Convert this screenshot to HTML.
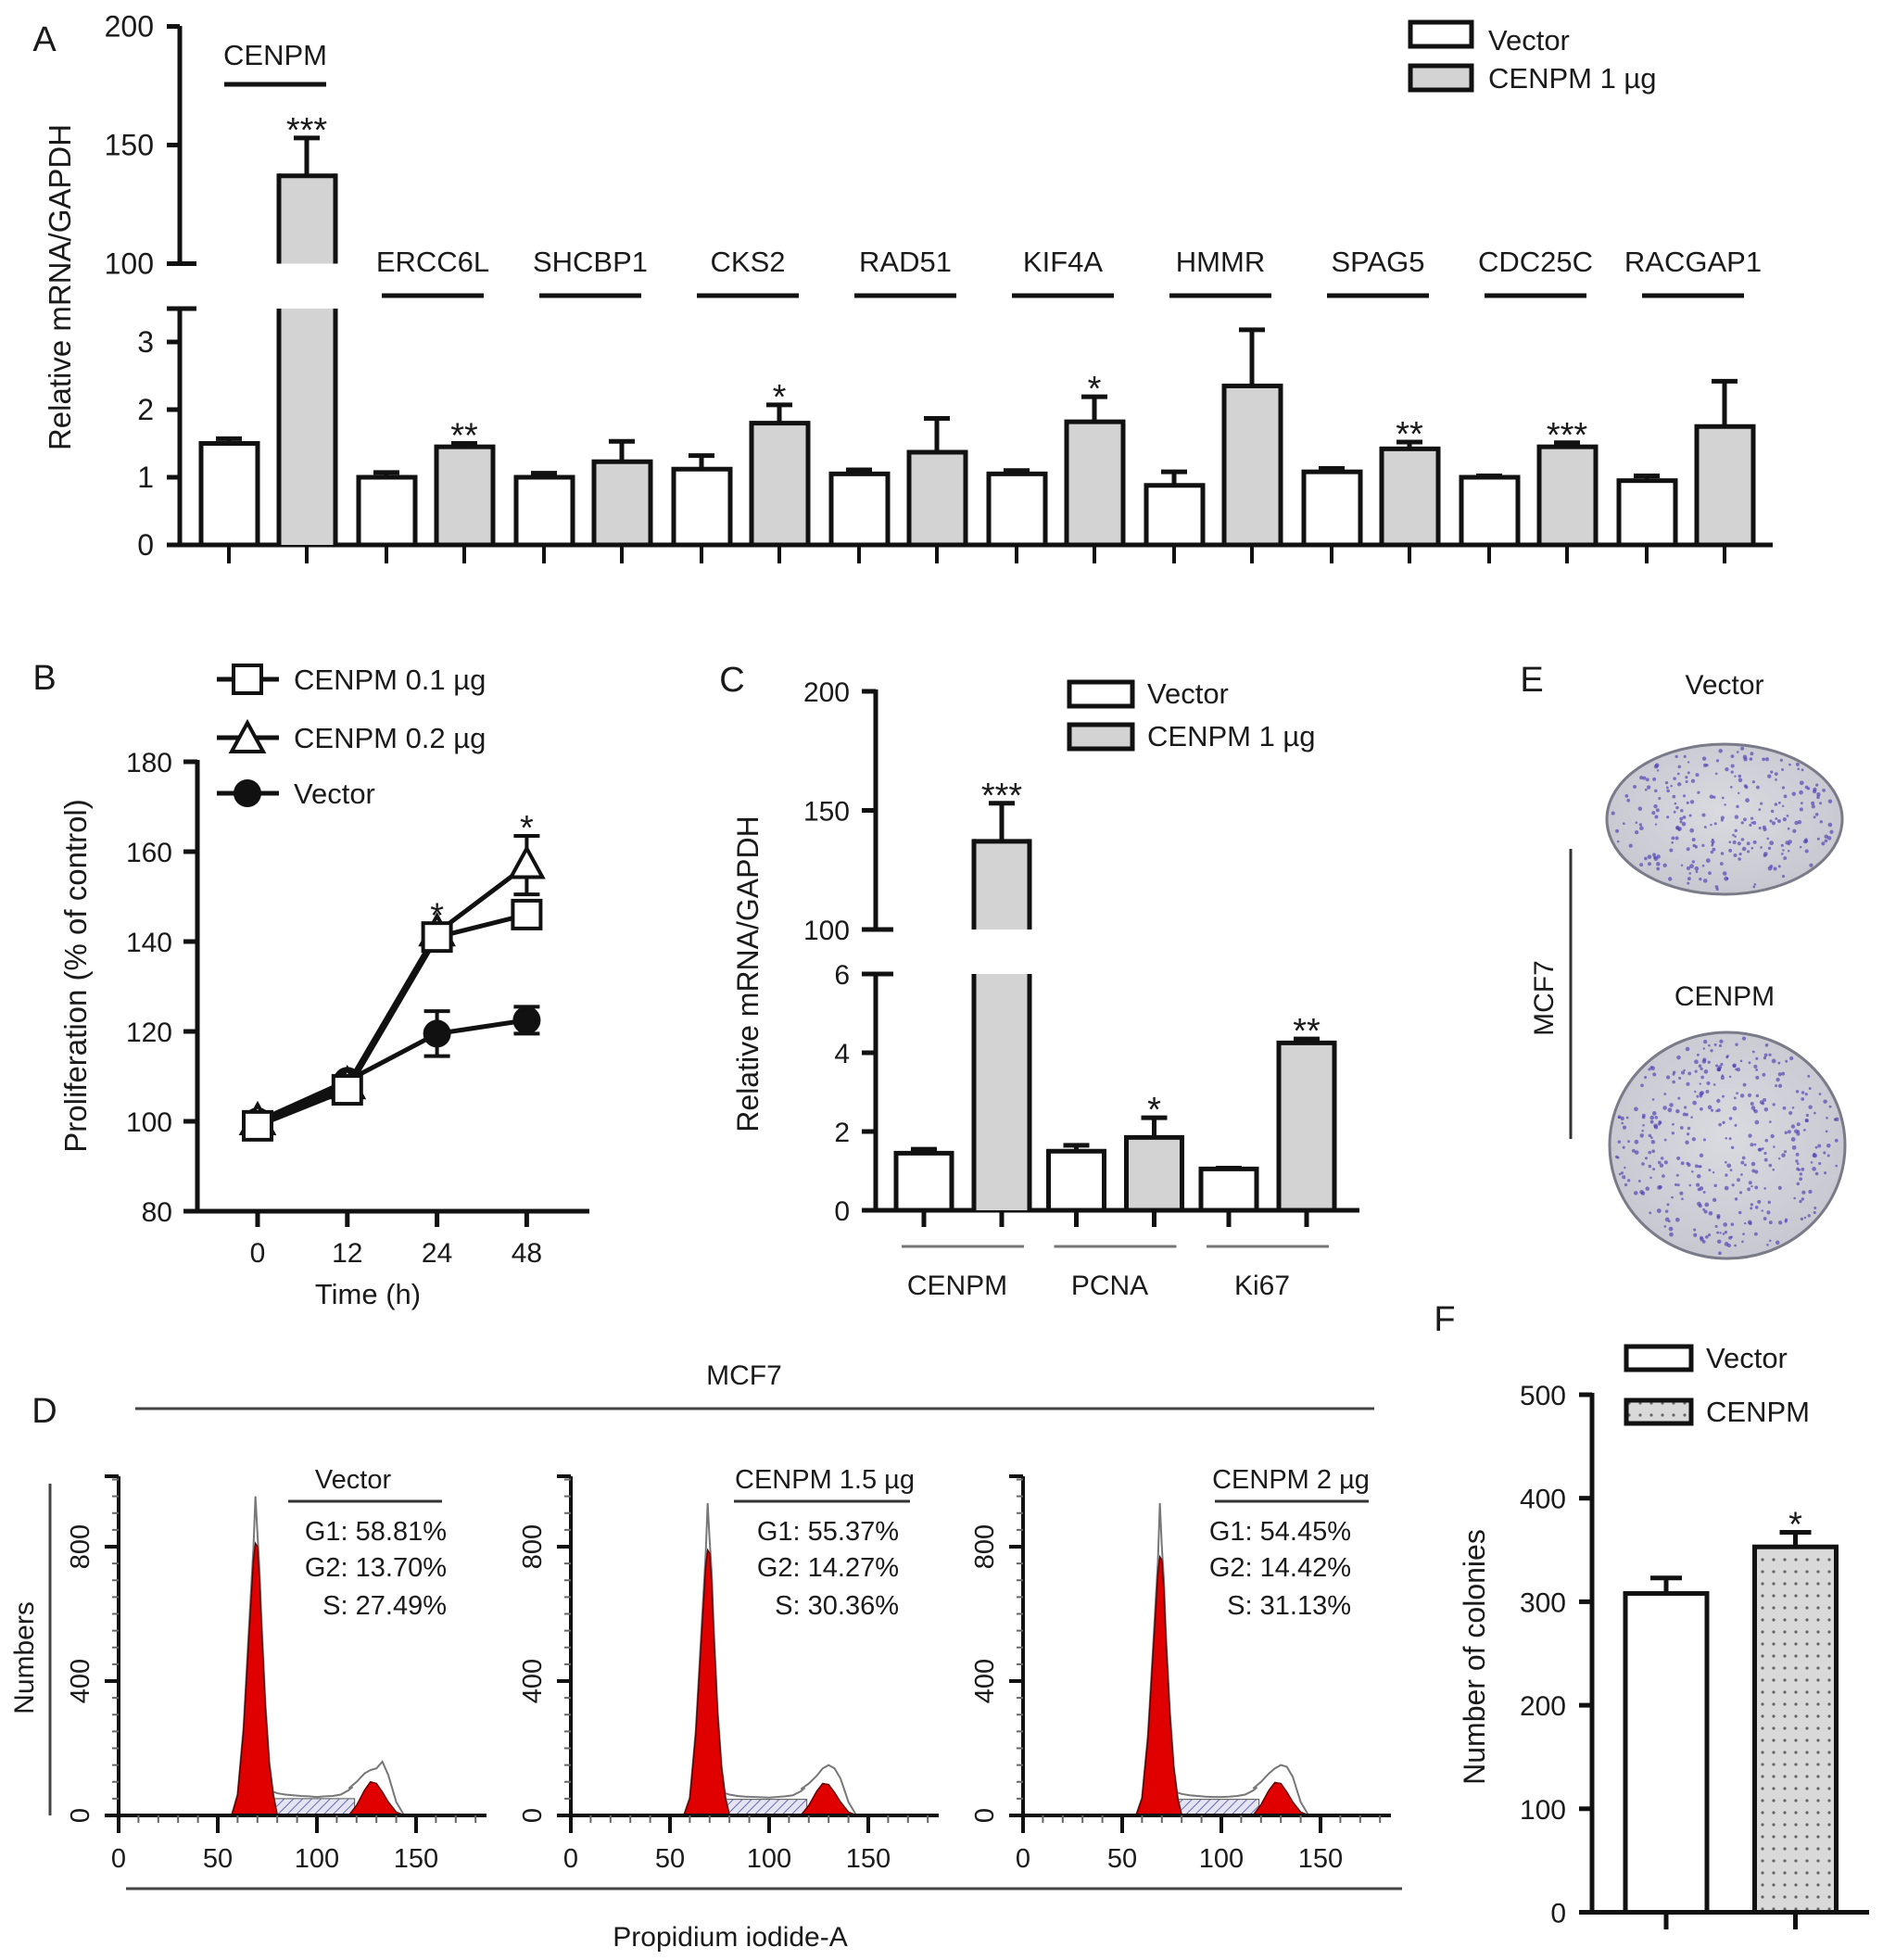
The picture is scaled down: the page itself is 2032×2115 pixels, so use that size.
<!DOCTYPE html>
<html><head><meta charset="utf-8">
<style>
html,body{margin:0;padding:0;background:#fff;}
svg{display:block;font-family:"Liberation Sans",Arial,sans-serif;}
</style></head>
<body>
<svg id="fig" xmlns="http://www.w3.org/2000/svg" width="2032" height="2115" viewBox="0 0 2032 2115">
<defs>
<pattern id="hatch" patternUnits="userSpaceOnUse" width="7" height="7" patternTransform="rotate(45)">
<rect width="7" height="7" fill="#e4e4f2"/><line x1="0" y1="0" x2="0" y2="7" stroke="#6a6ab0" stroke-width="2"/>
</pattern>
<pattern id="dots" patternUnits="userSpaceOnUse" width="12" height="13">
<rect width="12" height="13" fill="#d9d9d9"/><circle cx="6" cy="6" r="1.6" fill="#666"/>
</pattern>
<radialGradient id="dish" cx="50%" cy="45%" r="60%">
<stop offset="0" stop-color="#dadae0"/><stop offset="1" stop-color="#c6c6d0"/>
</radialGradient>
</defs>
</svg>
<script>
// ---------- data ----------
const genesA=['CENPM','ERCC6L','SHCBP1','CKS2','RAD51','KIF4A','HMMR','SPAG5','CDC25C','RACGAP1'];
const vecA=[1.5,1.0,1.0,1.12,1.05,1.05,0.88,1.08,1.0,0.95];
const vecErrA=[0.07,0.07,0.06,0.2,0.06,0.05,0.2,0.05,0.02,0.07];
const cenA=[137,1.45,1.23,1.8,1.37,1.82,2.35,1.42,1.45,1.75];
const cenErrA=[16,0.05,0.3,0.27,0.5,0.37,0.83,0.1,0.06,0.67];
const starsA=['***','**','','*','','*','','**','***',''];
const ticksAlow=[0,1,2,3];
const ticksAup=[100,150,200];

const timesB=['0','12','24','48'];
const vecB=[100,109,119.5,122.5];
const vecErrB=[1,1,5,3];
const c01B=[99,107,141,146];
const c01ErrB=[1,1,2,2.5];
const c02B=[100,108,142,157];
const c02ErrB=[1,1,2,6.5];
const starsB=['','','*','*'];
const ticksB=[80,100,120,140,160,180];

const genesC=['CENPM','PCNA','Ki67'];
const vecC=[1.45,1.5,1.05];
const vecErrC=[0.1,0.15,0.02];
const cenC=[137,1.85,4.25];
const cenErrC=[16,0.5,0.1];
const starsC=['***','*','**'];
const ticksClow=[0,2,4,6];
const ticksCup=[100,150,200];

const namesD=['Vector','CENPM 1.5 \u00b5g','CENPM 2 \u00b5g'];
const g1D=['58.81','55.37','54.45'];
const g2D=['13.70','14.27','14.42'];
const sD=['27.49','30.36','31.13'];
const g1X=[57,60,63,66,68,69,70,71,72,74,76,78,80];
const g1Red=[[0,60,250,560,760,810,800,700,560,320,150,60,0],[0,50,240,540,740,790,780,690,540,300,140,50,0],[0,50,230,520,720,770,760,670,520,300,140,50,0]];
const g1Peak=[950,930,930];
const sX=[76,80,84,88,92,96,100,104,108,112,116,118];
const sGrey=[[75,66,62,60,58,57,55,57,58,62,75,85],[70,62,58,56,55,54,53,55,57,60,72,82],[72,64,60,58,56,55,55,56,58,62,74,84]];
const sHatch=[50,48,48];
const g2X=[116,120,124,127,130,133,136,140,144];
const g2Red=[[0,30,75,100,95,70,40,10,0],[0,30,72,95,92,68,40,10,0],[0,32,75,98,95,70,40,10,0]];
const g2Grey=[[80,100,125,135,140,160,120,40,0],[78,95,118,140,150,140,110,40,0],[80,100,125,140,150,145,115,40,0]];
const ticksDy=[0,400,800];
const ticksDx=[0,50,100,150];

const groupsF=['Vector','CENPM'];
const valF=[308,353];
const errF=[15,14];
const starsF=['','*'];
const ticksF=[0,100,200,300,400,500];

// ---------- helpers ----------
const NS='http://www.w3.org/2000/svg';
const svg=document.getElementById('fig');
function el(tag,attrs,parent){const e=document.createElementNS(NS,tag);for(const k in attrs)e.setAttribute(k,attrs[k]);(parent||svg).appendChild(e);return e;}
function line(x1,y1,x2,y2,w,name,col){const l=el('line',{x1:x1,y1:y1,x2:x2,y2:y2,stroke:col||'#111','stroke-width':w||4});


return l;}
function txt(x,y,s,size,anchor,name,rot){const t=el('text',{x:x,y:y,'font-size':size,'text-anchor':anchor||'middle',fill:'#1a1a1a'});
t.textContent=s;
if(rot){t.setAttribute('transform','rotate(-90 '+x+' '+y+')');}


return t;}
function rect(x,y,w,h,fill,sw,name){const r=el('rect',{x:x,y:y,width:w,height:h,fill:fill,stroke:'#111','stroke-width':sw});


return r;}
// open-ended bar segment (for axis breaks)
function openBar(x,yTop,yBot,w,fill,sw,hasTop,name){
  const r=el('rect',{x:x,y:yTop,width:w,height:yBot-yTop,fill:fill});
  
  
  line(x,yTop-(hasTop?sw/2:0),x,yBot,sw,name+'-side');
  line(x+w,yTop-(hasTop?sw/2:0),x+w,yBot,sw,name+'-side');
  if(hasTop)line(x,yTop,x+w,yTop,sw,name+'-top');
}
function errbar(x,yTop,yErr,cap,w,name){line(x,yTop,x,yErr,w,name);line(x-cap/2,yErr,x+cap/2,yErr,w,name+'-cap');}
function star(x,errTop,s,name){txt(x,errTop+4,s,38,'middle',name);}

// ---------- Panel A ----------
const yAL=v=>588-v*73;
const yAU=v=>284.5-(v-100)*128/50;
const xA=(i,s)=>247+i*170+s*84;
txt(48,55,'A',38,'middle','panel-a-label');
line(194,28,194,286,5,'a-y-axis-upper');
line(194,331,194,590,5,'a-y-axis-lower');
line(180,588,1913,588,5,'a-x-axis');
ticksAup.forEach(v=>{line(180,yAU(v),v===100?212:194,yAU(v),5,'a-y-tick');txt(166,yAU(v)+11,String(v),32,'end','a-y-tick-label');});
line(180,333,212,333,5,'a-y-break-tick');
ticksAlow.forEach(v=>{line(180,yAL(v),194,yAL(v),5,'a-y-tick');txt(166,yAL(v)+11,String(v),32,'end','a-y-tick-label');});
txt(76,310,'Relative mRNA/GAPDH',33,'middle','a-y-axis-title',true);
genesA.forEach((g,i)=>{
  const gc=(xA(i,0)+xA(i,1))/2+8;
  const ly=i===0?70:293, uy=i===0?91:319;
  txt(gc,ly,g,31,'middle','a-gene-label');
  line(gc-55,uy,gc+55,uy,5,'a-gene-underline');
  const xv=xA(i,0);
  rect(xv-30,yAL(vecA[i]),61,588-yAL(vecA[i]),'#fff',5,'a-bar-vector');
  errbar(xv,yAL(vecA[i]),yAL(vecA[i]+vecErrA[i]),28,5,'a-err-vector');
  line(xv,588,xv,608,4,'a-x-tick');
  const xc=xA(i,1);
  let errTop;
  if(cenA[i]>3.5){
    openBar(xc-30,333,588,61,'#d3d3d3',5,false,'a-bar-cenpm-lower');
    openBar(xc-30,yAU(cenA[i]),284.5,61,'#d3d3d3',5,true,'a-bar-cenpm-upper');
    errTop=yAU(cenA[i]+cenErrA[i]);
    errbar(xc,yAU(cenA[i]),errTop,28,5,'a-err-cenpm');
  } else {
    rect(xc-30,yAL(cenA[i]),61,588-yAL(cenA[i]),'#d3d3d3',5,'a-bar-cenpm');
    errTop=yAL(cenA[i]+cenErrA[i]);
    errbar(xc,yAL(cenA[i]),errTop,28,5,'a-err-cenpm');
  }
  line(xc,588,xc,608,4,'a-x-tick');
  if(starsA[i])star(xc,errTop,starsA[i],'a-significance');
});
rect(1522,24,66,26,'#fff',5,'a-legend-vector-swatch');
txt(1606,54,'Vector',31,'start','a-legend-vector-label');
rect(1522,71,66,26,'#d3d3d3',5,'a-legend-cenpm-swatch');
txt(1606,95,'CENPM 1 \u00b5g',31,'start','a-legend-cenpm-label');

// ---------- Panel B ----------
const yB=v=>1307-(v-80)*4.85;
const xB=i=>278+i*96.8;
txt(48,744,'B',38,'middle','panel-b-label');
line(213,820,213,1309,5,'b-y-axis');
line(198,1307,636,1307,5,'b-x-axis');
ticksB.forEach(v=>{line(198,yB(v),213,yB(v),5,'b-y-tick');txt(186,yB(v)+11,String(v),30,'end','b-y-tick-label');});
timesB.forEach((t,i)=>{line(xB(i),1307,xB(i),1324,5,'b-x-tick');txt(xB(i),1362,t,30,'middle','b-x-tick-label');});
txt(397,1407,'Time (h)',31,'middle','b-x-axis-title');
txt(93,1053,'Proliferation  (% of control)',33,'middle','b-y-axis-title',true);
function seriesB(vals,errs,name){
  const pts=vals.map((v,i)=>xB(i)+','+yB(v)).join(' ');
  const p=el('polyline',{points:pts,fill:'none',stroke:'#111','stroke-width':5});
  
  
  vals.forEach((v,i)=>{errbar(xB(i),yB(v),yB(v+errs[i]),28,4,name+'-err-up');errbar(xB(i),yB(v),yB(v-errs[i]),28,4,name+'-err-down');});
}
seriesB(vecB,vecErrB,'b-vector');
seriesB(c01B,c01ErrB,'b-cenpm01');
seriesB(c02B,c02ErrB,'b-cenpm02');
function markerSq(x,y){const m=el('rect',{x:x-15,y:y-15,width:30,height:30,fill:'#fff',stroke:'#111','stroke-width':4});

}
function markerTri(x,y){const m=el('polygon',{points:(x)+','+(y-18)+' '+(x-17)+','+(y+13)+' '+(x+17)+','+(y+13),fill:'#fff',stroke:'#111','stroke-width':4});

}
function markerCirc(x,y){const m=el('circle',{cx:x,cy:y,r:15,fill:'#111'});

}
vecB.forEach((v,i)=>markerCirc(xB(i),yB(v)));
c02B.forEach((v,i)=>markerTri(xB(i),yB(v)));
c01B.forEach((v,i)=>markerSq(xB(i),yB(v)));
starsB.forEach((s,i)=>{if(s)star(xB(i),yB(Math.max(c01B[i]+c01ErrB[i],c02B[i]+c02ErrB[i])),s,'b-significance');});
line(234,733,301,733,5,'b-legend-line');markerSq(267,733);txt(317,744,'CENPM 0.1 \u00b5g',31,'start','b-legend-label');
line(234,796,301,796,5,'b-legend-line');markerTri(267,798);txt(317,807,'CENPM 0.2 \u00b5g',31,'start','b-legend-label');
line(234,856,301,856,5,'b-legend-line');markerCirc(267,856);txt(317,867,'Vector',31,'start','b-legend-label');

// ---------- Panel C ----------
const yCL=v=>1306-v*42.5;
const yCU=v=>1003-(v-100)*2.57;
const xC=(g,s)=>997+g*164.5+s*84;
txt(790,746,'C',38,'middle','panel-c-label');
line(945,744,945,1005,5,'c-y-axis-upper');
line(945,1049,945,1308,5,'c-y-axis-lower');
line(930,1306,1467,1306,5,'c-x-axis');
ticksCup.forEach(v=>{line(930,yCU(v),v===100?964:945,yCU(v),5,'c-y-tick');txt(917,yCU(v)+11,String(v),30,'end','c-y-tick-label');});
ticksClow.forEach(v=>{line(930,yCL(v),v===6?964:945,yCL(v),5,'c-y-tick');txt(917,yCL(v)+11,String(v),30,'end','c-y-tick-label');});
txt(818,1051,'Relative mRNA/GAPDH',32,'middle','c-y-axis-title',true);
genesC.forEach((g,i)=>{
  const xv=xC(i,0), xc=xC(i,1), gc=(xv+xc)/2;
  rect(xv-30,yCL(vecC[i]),60,1306-yCL(vecC[i]),'#fff',5,'c-bar-vector');
  errbar(xv,yCL(vecC[i]),yCL(vecC[i]+vecErrC[i]),28,5,'c-err-vector');
  let errTop;
  if(cenC[i]>6.5){
    openBar(xc-30,1051,1306,60,'#d3d3d3',5,false,'c-bar-cenpm-lower');
    openBar(xc-30,yCU(cenC[i]),1003,60,'#d3d3d3',5,true,'c-bar-cenpm-upper');
    errTop=yCU(cenC[i]+cenErrC[i]);
    errbar(xc,yCU(cenC[i]),errTop,28,5,'c-err-cenpm');
  } else {
    rect(xc-30,yCL(cenC[i]),60,1306-yCL(cenC[i]),'#d3d3d3',5,'c-bar-cenpm');
    errTop=yCL(cenC[i]+cenErrC[i]);
    errbar(xc,yCL(cenC[i]),errTop,28,5,'c-err-cenpm');
  }
  line(xv,1306,xv,1324,5,'c-x-tick');line(xc,1306,xc,1324,5,'c-x-tick');
  if(starsC[i])star(xc,errTop,starsC[i],'c-significance');
  line(gc-66,1345,gc+66,1345,3,'c-group-line','#777');
  txt(gc-6,1397,g,30,'middle','c-group-label');
});
rect(1154,736,68,26,'#fff',5,'c-legend-vector-swatch');
txt(1238,759,'Vector',31,'start','c-legend-vector-label');
rect(1154,782,68,26,'#d3d3d3',5,'c-legend-cenpm-swatch');
txt(1238,805,'CENPM 1 \u00b5g',31,'start','c-legend-cenpm-label');

// ---------- Panel D ----------
txt(48,1535,'D',38,'middle','panel-d-label');
txt(803,1494,'MCF7',30,'middle','d-title');
line(146,1520,1483,1520,3,'d-title-line','#444');
line(54,1601,54,1959,3,'d-left-line','#444');
line(136,2038,1513,2038,3,'d-bottom-line','#444');
txt(36,1789,'Numbers',30,'middle','d-y-axis-title',true);
txt(788,2100,'Propidium iodide-A',30,'middle','d-x-axis-title');
const labelDx=[381,402,417];
const ulD=[[311,477],[304,494],[335,501]];
namesD.forEach((nm,p)=>{
  const off=p*488;
  const xD=v=>128+off+v*2.14;
  const yD=v=>1959-v*0.3625;
  const pts=(xs,ys)=>xs.map((x,i)=>xD(x)+','+yD(ys[i])).join(' ');
  const h=el('polygon',{points:xD(75)+','+yD(0)+' '+xD(75)+','+yD(sHatch[p])+' '+xD(119)+','+yD(sHatch[p])+' '+xD(119)+','+yD(0),fill:'url(#hatch)',stroke:'#555','stroke-width':1});
  
  
  const gy=g1Red[p].map((v,i)=>v===Math.max(...g1Red[p])?g1Peak[p]:v*1.05);
  const o1=el('polyline',{points:pts(g1X,gy),fill:'none',stroke:'#777','stroke-width':2});
  
  
  const o2=el('polyline',{points:pts(sX,sGrey[p]),fill:'none',stroke:'#777','stroke-width':2});
  
  
  const o3=el('polyline',{points:pts(g2X,g2Grey[p]),fill:'none',stroke:'#777','stroke-width':2});
  
  
  const r1=el('polygon',{points:pts(g1X,g1Red[p]),fill:'#e00000',stroke:'#600','stroke-width':1.5});
  
  
  const r2=el('polygon',{points:pts(g2X,g2Red[p]),fill:'#e00000',stroke:'#600','stroke-width':1.5});
  
  
  line(128+off,1593,128+off,1961,4,'d-y-axis');
  line(113+off,1959,525+off,1959,4,'d-x-axis');
  for(let v=0;v<=1000;v+=50){const maj=ticksDy.includes(v);line(maj?113+off:121+off,yD(v),128+off,yD(v),maj?4:2,'d-y-tick',maj?'#111':'#666');}
  line(113+off,1593,128+off,1593,4,'d-y-tick-top');
  ticksDy.forEach(v=>txt(96+off,yD(v),String(v),29,'middle','d-y-tick-label',true));
  for(let v=0;v<=180;v+=10){const maj=ticksDx.includes(v);line(xD(v),1959,xD(v),maj?1978:1967,maj?4:2,'d-x-tick',maj?'#111':'#666');}
  ticksDx.forEach(v=>txt(xD(v),2015,String(v),29,'middle','d-x-tick-label'));
  txt(labelDx[p]+off,1606,nm,29,'middle','d-sample-label');
  line(ulD[p][0]+off,1620,ulD[p][1]+off,1620,3,'d-sample-underline','#333');
  txt(482+off,1662,'G1: '+g1D[p]+'%',29,'end','d-g1-percent');
  txt(482+off,1701,'G2: '+g2D[p]+'%',29,'end','d-g2-percent');
  txt(482+off,1742,'S: '+sD[p]+'%',29,'end','d-s-percent');
});

// ---------- Panel E ----------
txt(1653,746,'E',38,'middle','panel-e-label');
txt(1861,749,'Vector',30,'middle','e-vector-label');
txt(1861,1085,'CENPM',30,'middle','e-cenpm-label');
txt(1676,1077,'MCF7',30,'middle','e-cell-line-label',true);
line(1695,916,1695,1229,3,'e-bracket-line','#333');
function dish(cx,cy,rx,ry,n,seed,name){
  const g=el('g',{});
  
  
  el('ellipse',{cx:cx,cy:cy,rx:rx,ry:ry,fill:'url(#dish)',stroke:'#7a7a88','stroke-width':3},g);
  let s=seed;const rnd=()=>{s=(s*1103515245+12345)%2147483648;return s/2147483648;};
  for(let k=0;k<n;k++){const a=rnd()*Math.PI*2,r=Math.sqrt(rnd())*0.96;
    el('circle',{cx:cx+Math.cos(a)*r*rx,cy:cy+Math.sin(a)*r*ry,r:1.2+rnd()*1.2,fill:'#4b3fb2','fill-opacity':0.65},g);}
}
dish(1861,884,127,81,260,7,'e-dish-vector');
dish(1864,1236,127,122,380,19,'e-dish-cenpm');

// ---------- Panel F ----------
const yF=v=>2063.5-v*1.117;
const xF=i=>1798+i*139.5;
txt(1559,1436,'F',38,'middle','panel-f-label');
line(1718,1503,1718,2065,5,'f-y-axis');
line(1704,2063.5,2017,2063.5,5,'f-x-axis');
ticksF.forEach(v=>{line(1704,yF(v),1718,yF(v),5,'f-y-tick');txt(1690,yF(v)+11,String(v),30,'end','f-y-tick-label');});
txt(1602,1788,'Number of colonies',32,'middle','f-y-axis-title',true);
groupsF.forEach((g,i)=>{
  const x=xF(i);
  rect(x-44,yF(valF[i]),88,2063.5-yF(valF[i]),i===0?'#fff':'url(#dots)',5,'f-bar-'+g.toLowerCase());
  errbar(x,yF(valF[i]),yF(valF[i]+errF[i]),34,5,'f-err');
  line(x,2063,x,2082,5,'f-x-tick');
  if(starsF[i])star(x,yF(valF[i]+errF[i]),starsF[i],'f-significance');
});
rect(1755,1453,70,25,'#fff',5,'f-legend-vector-swatch');
txt(1841,1476,'Vector',31,'start','f-legend-vector-label');
rect(1755,1511,70,25,'url(#dots)',5,'f-legend-cenpm-swatch');
txt(1841,1534,'CENPM',31,'start','f-legend-cenpm-label');
</script>
</body></html>
